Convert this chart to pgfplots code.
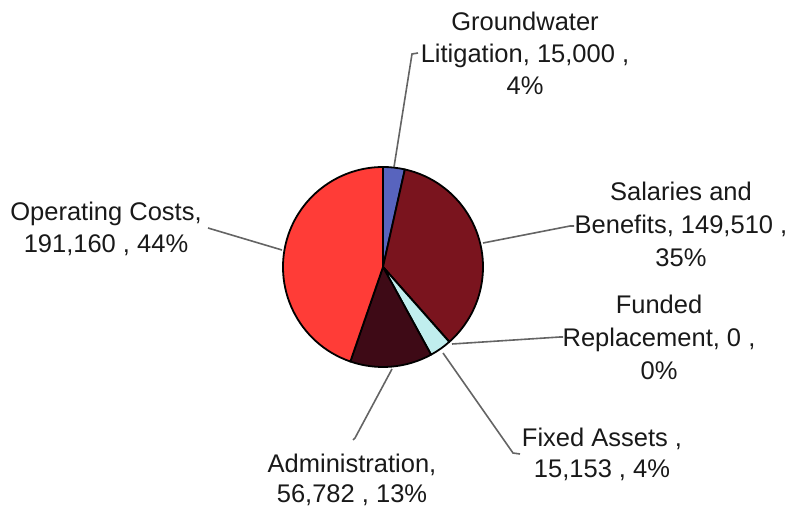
\documentclass[border=0pt]{standalone}
\usepackage{pgfplots}
\usepackage{pgfplotstable}
\pgfplotsset{compat=1.18}
\usepackage{fontspec}
\setmainfont{Liberation Sans}

\definecolor{cGW}{RGB}{88,100,190}
\definecolor{cSal}{RGB}{122,20,30}
\definecolor{cFR}{RGB}{150,150,150}
\definecolor{cFA}{RGB}{192,238,238}
\definecolor{cAdm}{RGB}{62,10,22}
\definecolor{cOp}{RGB}{255,60,55}
\definecolor{leader}{RGB}{100,100,100}
\definecolor{txt}{RGB}{25,25,25}

% Budget by category
\pgfplotstableread{
name value
Groundwater 15000
Salaries 149510
Funded 0
Fixed 15153
Admin 56782
Operating 191160
}\budget

% total of all categories
\def\total{0}
\pgfplotstablegetrowsof{\budget}
\pgfmathtruncatemacro\nrows{\pgfplotsretval-1}
\pgfplotsforeachungrouped \i in {0,...,\nrows}{%
  \pgfplotstablegetelem{\i}{value}\of\budget
  \edef\total{\fpeval{\total+\pgfplotsretval}}%
}
% slice angles, clockwise from 12 o'clock
\def\cum{0}
\pgfplotsforeachungrouped \i in {0,...,\nrows}{%
  \pgfplotstablegetelem{\i}{value}\of\budget
  \expandafter\xdef\csname sliceS\i\endcsname{\fpeval{90-360*\cum/\total}}%
  \edef\cum{\fpeval{\cum+\pgfplotsretval}}%
  \expandafter\xdef\csname sliceE\i\endcsname{\fpeval{90-360*\cum/\total}}%
}

% pie centre and radius (axis units = 1pt)
\def\cx{383}\def\cy{267}\def\rad{100pt}

\newcommand\slice[2]{%
  \filldraw[fill=#2, draw=black, line width=1.8pt, line join=round]
    (axis cs:\cx,\cy) -- ++(\csname sliceS#1\endcsname:\rad)
    arc[start angle=\csname sliceS#1\endcsname,
        end angle=\csname sliceE#1\endcsname, radius=\rad] -- cycle;}

\newcommand\lbl[3]{%
  \node[anchor=base, inner sep=0pt, text=txt,
        font=\fontsize{25.5}{32}\selectfont] at (axis cs:#1,#2) {#3};}

\begin{document}
\begin{tikzpicture}
\begin{axis}[
  x=1pt, y=1pt,
  xmin=0, xmax=792, ymin=0, ymax=510,
  y dir=reverse,
  hide axis, clip=false,
]
\path (axis cs:0,0) (axis cs:792,510);

% slices
\slice{0}{cGW}
\slice{1}{cSal}
\slice{2}{cFR}
\slice{3}{cFA}
\slice{4}{cAdm}
\slice{5}{cOp}

% leader lines
\addplot[leader, line width=1.6pt, mark=none] coordinates {(394,167) (412,54) (418,53)};
\addplot[leader, line width=1.6pt, mark=none] coordinates {(483,243) (570,226) (574,226)};
\addplot[leader, line width=1.6pt, mark=none] coordinates {(452,344) (560,337) (563,337)};
\addplot[leader, line width=1.6pt, mark=none] coordinates {(443,353) (513,453) (520,454)};
\addplot[leader, line width=1.6pt, mark=none] coordinates {(392,369) (355,438) (353,440)};
\addplot[leader, line width=1.6pt, mark=none] coordinates {(282,250) (208,228)};

% data labels
\lbl{525}{31}{Groundwater}
\lbl{525}{63}{Litigation, 15,000 ,}
\lbl{525}{95}{4\%}

\lbl{681}{201}{Salaries and}
\lbl{681}{234}{Benefits, 149,510 ,}
\lbl{681}{267}{35\%}

\lbl{659}{314}{Funded}
\lbl{659}{347}{Replacement, 0 ,}
\lbl{659}{379}{0\%}

\lbl{602}{446}{Fixed Assets ,}
\lbl{602}{477}{15,153 , 4\%}

\lbl{352}{472}{Administration,}
\lbl{352}{502}{56,782 , 13\%}

\lbl{106}{221}{Operating Costs,}
\lbl{106}{253}{191,160 , 44\%}
\end{axis}
\end{tikzpicture}
\end{document}
